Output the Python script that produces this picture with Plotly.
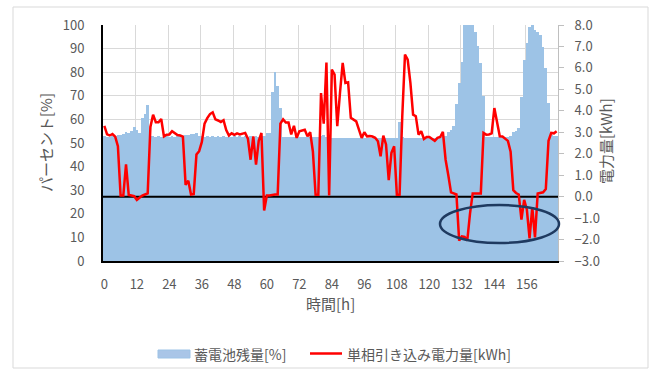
import plotly.graph_objects as go

# Hourly series over one week (0-167 h)
hours = list(range(168))
tick_hours = list(range(0, 168, 12))
tick_labels = [str(h) for h in tick_hours]

# Battery state of charge [%]
battery_pct = [
    52.8, 52.6, 52.7, 52.8, 53.0, 53.2, 53.5, 54.0, 54.5, 54.2,   # 0-9
    55.2, 56.6, 55.3, 54.4, 60.5, 62.2, 66.0, 52.9, 52.8, 52.7,   # 10-19
    52.8, 52.7, 52.9, 52.8, 52.7, 52.8, 52.7, 52.8, 52.9, 53.1,   # 20-29
    53.3, 53.6, 53.8, 54.0, 54.2, 53.0, 52.8, 52.7, 52.8, 52.7,   # 30-39
    52.8, 52.7, 52.8, 52.7, 52.8, 52.7, 52.8, 52.7, 52.8, 52.7,   # 40-49
    52.8, 52.7, 52.8, 52.7, 52.8, 52.7, 52.8, 52.7, 52.8, 52.9,   # 50-59
    54.4, 54.4, 71.8, 80.0, 74.0, 64.7, 52.4, 52.4, 52.5, 52.4,   # 60-69
    52.5, 52.4, 52.5, 52.4, 52.5, 52.4, 52.5, 52.4, 52.5, 52.6,   # 70-79
    53.0, 53.4, 52.6, 52.4, 52.3, 52.3, 52.3, 52.3, 52.3, 52.3,   # 80-89
    52.3, 52.3, 52.3, 52.3, 52.3, 52.3, 52.3, 52.3, 52.3, 52.3,   # 90-99
    52.3, 52.3, 52.3, 52.3, 52.3, 52.3, 52.3, 52.3, 52.3, 58.8,   # 100-109
    52.4, 52.3, 52.3, 52.3, 52.3, 52.3, 52.3, 52.3, 52.3, 52.3,   # 110-119
    52.3, 52.3, 52.3, 52.3, 52.4, 52.6, 53.0, 54.5, 55.5, 57.2,   # 120-129
    66.5, 75.3, 84.5, 100.0, 100.0, 100.0, 100.0, 97.0, 91.0, 84.0,  # 130-139
    70.0, 52.6, 52.5, 52.5, 52.5, 52.5, 52.5, 52.5, 52.5, 52.5,   # 140-149
    52.8, 54.5, 55.0, 56.2, 69.6, 85.2, 92.2, 99.3, 100.0, 97.9,  # 150-159
    97.2, 95.8, 90.8, 81.6, 66.8, 53.2, 53.0, 53.0,               # 160-167
]

# Single-phase grid energy [kWh]
grid_kwh = [
    3.30, 2.90, 2.85, 2.92, 2.80, 2.35, 0.05, 0.05, 1.50, 0.08,   # 0-9
    0.05, 0.02, -0.15, -0.05, 0.05, 0.10, 0.15, 3.25, 3.82, 3.47,  # 10-19
    3.47, 3.62, 2.81, 2.89, 2.90, 3.05, 2.95, 2.87, 2.85, 2.80,   # 20-29
    0.55, 0.74, 0.10, 0.12, 1.96, 2.12, 2.55, 3.40, 3.66, 3.85,   # 30-39
    3.93, 3.60, 3.55, 3.48, 3.56, 3.10, 2.85, 2.95, 2.88, 2.95,   # 40-49
    2.90, 2.92, 2.97, 2.70, 1.72, 2.81, 1.49, 2.60, 2.97, -0.65,  # 50-59
    0.05, 0.05, 0.08, 0.10, 0.10, 3.40, 3.60, 3.45, 3.45, 2.90,   # 60-69
    3.30, 2.74, 3.05, 3.08, 3.12, 2.81, 3.00, 2.10, 0.09, 0.09,   # 70-79
    4.83, 3.40, 6.25, 0.05, 5.92, 5.69, 3.28, 4.83, 6.23, 5.30,   # 80-89
    5.33, 3.67, 3.59, 3.51, 3.12, 2.74, 3.00, 2.81, 2.82, 2.80,   # 90-99
    2.74, 2.58, 1.88, 2.84, 2.43, 0.77, 2.04, 2.35, 0.09, 0.09,   # 100-109
    3.75, 6.62, 6.39, 5.30, 3.82, 3.75, 2.89, 3.05, 2.69, 2.78,   # 110-119
    2.78, 2.70, 2.60, 2.74, 2.78, 3.02, 1.72, 1.00, 0.20, 0.15,   # 120-129
    0.10, -2.05, -1.85, -1.88, -2.05, -0.80, 0.15, 0.15, 0.15, 0.15,  # 130-139
    2.97, 2.89, 2.90, 2.95, 4.13, 3.45, 2.81, 2.80, 2.72, 2.60,   # 140-149
    2.10, 0.30, 0.17, 0.10, -1.07, -0.15, -0.60, -1.95, -0.50, -1.90,  # 150-159
    0.15, 0.17, 0.20, 0.35, 2.60, 2.97, 2.95, 3.05,               # 160-167
]

series_names = ["蓄電池残量[%]", "単相引き込み電力量[kWh]"]
bar_color = "#9DC3E6"
line_color = "#FF0000"
text_color = "#595959"
grid_color = "#D9D9D9"
font_family = "Noto Sans CJK JP, Noto Sans, sans-serif"

fig = go.Figure()

fig.add_trace(go.Bar(
    x=hours, y=battery_pct, name=series_names[0],
    marker=dict(color=bar_color, line=dict(width=0)),
    yaxis="y", showlegend=False,
))

# Zero reference of the energy axis, spanning the full category range
fig.add_trace(go.Scatter(
    x=[hours[0] - 0.5, hours[-1] + 0.5], y=[0, 0], mode="lines",
    line=dict(color="black", width=2), yaxis="y2",
    hoverinfo="skip", showlegend=False,
))

fig.add_trace(go.Scatter(
    x=hours, y=grid_kwh, name=series_names[1], mode="lines",
    line=dict(color=line_color, width=2.5),
    yaxis="y2", showlegend=False,
))

# Plot area in pixels: left 103, right 558, top 25, bottom 261
W, H = 654, 369
L, R, T, B = 103, 96, 25, 108
pw, ph = W - L - R, H - T - B


def px_x(px):
    return (px - L) / pw


def px_y(py):
    return (H - B - py) / ph


shapes = [
    # outer chart frame
    dict(type="rect", xref="paper", yref="paper",
         x0=px_x(13), x1=px_x(648), y0=px_y(368), y1=px_y(7),
         line=dict(color=grid_color, width=1), layer="below"),
    # highlighted reverse-flow region
    dict(type="circle", xref="paper", yref="paper",
         x0=px_x(440), x1=px_x(559), y0=px_y(243), y1=px_y(205),
         line=dict(color="#1F3A60", width=2.5), layer="above"),
    # legend swatches
    dict(type="rect", xref="paper", yref="paper",
         x0=px_x(158), x1=px_x(190), y0=px_y(358), y1=px_y(350),
         fillcolor="#A9C5E7", line=dict(color="#9DC3E6", width=1)),
    dict(type="line", xref="paper", yref="paper",
         x0=px_x(310), x1=px_x(342), y0=px_y(353.5), y1=px_y(353.5),
         line=dict(color=line_color, width=2.5)),
]

annotations = [
    dict(text=series_names[0], xref="paper", yref="paper",
         x=px_x(192), y=px_y(354), xanchor="left", yanchor="middle",
         showarrow=False, font=dict(size=14, color=text_color)),
    dict(text=series_names[1], xref="paper", yref="paper",
         x=px_x(345), y=px_y(354), xanchor="left", yanchor="middle",
         showarrow=False, font=dict(size=14, color=text_color)),
    dict(text="時間[h]", xref="paper", yref="paper",
         x=px_x(330), y=px_y(303), xanchor="center", yanchor="middle",
         showarrow=False, font=dict(size=15, color=text_color)),
    dict(text="パーセント[%]", xref="paper", yref="paper",
         x=px_x(45), y=px_y(143), xanchor="center", yanchor="middle",
         textangle=-90, showarrow=False, font=dict(size=15, color=text_color)),
    dict(text="電力量[kWh]", xref="paper", yref="paper",
         x=px_x(605), y=px_y(141), xanchor="center", yanchor="middle",
         textangle=-90, showarrow=False, font=dict(size=15, color=text_color)),
]

fig.update_layout(
    width=W, height=H,
    margin=dict(l=L, r=R, t=T, b=B, pad=0),
    paper_bgcolor="white", plot_bgcolor="white",
    font=dict(family=font_family, size=13, color=text_color),
    bargap=0,
    showlegend=False,
    shapes=shapes,
    annotations=annotations,
    xaxis=dict(
        range=[hours[0] - 0.5, hours[-1] + 0.5],
        tickmode="array", tickvals=tick_hours, ticktext=tick_labels,
        showgrid=False, zeroline=False,
        showline=True, linecolor="black", linewidth=2,
        ticks="", ticklabelstandoff=10,
        minor=dict(tickmode="linear", tick0=hours[0] - 0.5, dtick=12,
                   showgrid=True, gridcolor=grid_color, gridwidth=1, ticks=""),
        tickfont=dict(size=13, color=text_color),
    ),
    yaxis=dict(
        range=[0, 100], dtick=10, tick0=0,
        showgrid=True, gridcolor=grid_color, gridwidth=1,
        zeroline=False,
        showline=True, linecolor="black", linewidth=2,
        ticks="", ticklabelstandoff=14,
        tickfont=dict(size=13, color=text_color),
    ),
    yaxis2=dict(
        range=[-3, 8], dtick=1, tick0=0, tickformat=".1f",
        overlaying="y", side="right", anchor="x",
        showgrid=False, zeroline=False,
        showline=True, linecolor="#BFBFBF", linewidth=1,
        ticks="outside", ticklen=5, tickcolor="#BFBFBF",
        ticklabelstandoff=8,
        tickfont=dict(size=13, color=text_color),
    ),
)

fig.write_html("out.html")
